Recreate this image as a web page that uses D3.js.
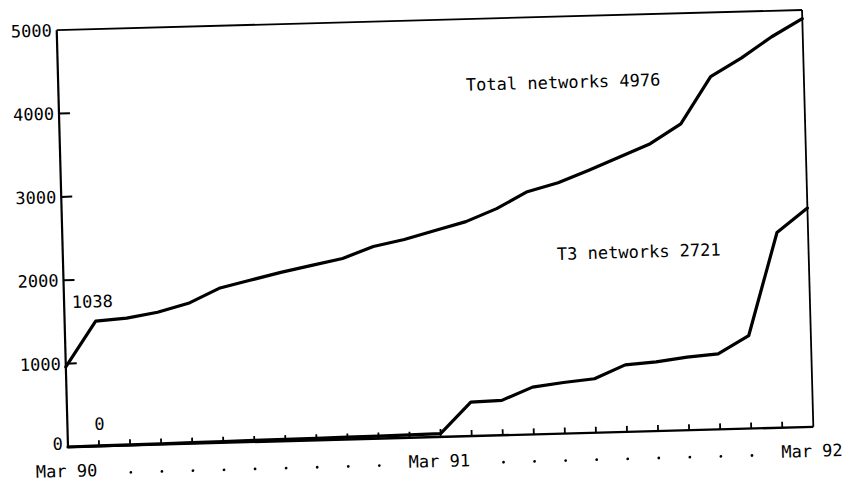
<!DOCTYPE html>
<html><head><meta charset="utf-8">
<script src="https://cdn.jsdelivr.net/npm/d3@7"></script>
<style>html,body{margin:0;padding:0;background:#fff}svg{display:block}</style>
</head><body>
<svg id="chart" width="864" height="482"></svg>
<script>
// ---- data ----
const months = ["Mar 90","Apr 90","May 90","Jun 90","Jul 90","Aug 90","Sep 90","Oct 90","Nov 90","Dec 90","Jan 91","Feb 91",
                "Mar 91","Apr 91","May 91","Jun 91","Jul 91","Aug 91","Sep 91","Oct 91","Nov 91","Dec 91","Jan 92","Feb 92","Mar 92"];
const totalNetworks = [960, 1499, 1525, 1586, 1683, 1853, 1939, 2024, 2098, 2171, 2304, 2378,
                       2475, 2572, 2718, 2911, 3009, 3149, 3297, 3447, 3675, 4230, 4443, 4689, 4895];
const t3Networks = [0, 3, 6, 9, 12, 15, 18, 21, 24, 27, 30, 34,
                    40, 407, 418, 567, 612, 647, 804, 829, 876, 905, 1113, 2341, 2624];
const yTickValues = [0, 1000, 2000, 3000, 4000, 5000];
const yTickLabels = ["0", "1000", "2000", "3000", "4000", "5000"];
const xLabelMonths = ["Mar 90", "Mar 91", "Mar 92"];
const annotationTexts = ["Total networks 4976", "T3 networks 2721", "1038", "0"];

// ---- layout ----
const svg = d3.select("#chart");
const W = 745.6, H = 417;
const g = svg.append("g").attr("transform", "translate(68,447) rotate(-1.55)");
const x = d3.scaleLinear().domain([0, months.length - 1]).range([0, W]);
const y = d3.scaleLinear().domain([0, 5000]).range([0, -H]);
const font = "'DejaVu Sans Mono', monospace";

// frame
g.append("line").attr("x1", 0).attr("y1", y(0)).attr("x2", 0).attr("y2", y(5000))
  .attr("stroke", "#000").attr("stroke-width", 2.2);
g.append("line").attr("x1", 0).attr("y1", y(0)).attr("x2", W).attr("y2", y(0))
  .attr("stroke", "#000").attr("stroke-width", 2.4);
g.append("line").attr("x1", 0).attr("y1", y(5000)).attr("x2", W).attr("y2", y(5000))
  .attr("stroke", "#000").attr("stroke-width", 1.8);
g.append("line").attr("x1", W).attr("y1", y(0)).attr("x2", W).attr("y2", y(5000))
  .attr("stroke", "#000").attr("stroke-width", 1.8);

// y ticks (inside)
g.selectAll(".yt").data(yTickValues.filter(v => v > 0 && v < 5000)).enter().append("line")
  .attr("x1", 0).attr("x2", 11).attr("y1", d => y(d)).attr("y2", d => y(d))
  .attr("stroke", "#000").attr("stroke-width", 2);
g.selectAll(".yl").data(yTickValues).enter().append("text")
  .attr("x", -5).attr("y", (d) => y(d) - (d === 0 ? 3.5 : 0)).attr("dy", "0.36em")
  .attr("text-anchor", "end").attr("font-family", font).attr("font-size", 17)
  .text((d, i) => yTickLabels[i]);

// x ticks (monthly, upward)
const innerIdx = d3.range(1, months.length - 1);
g.selectAll(".xt").data(innerIdx).enter().append("line")
  .attr("x1", d => x(d)).attr("x2", d => x(d)).attr("y1", 0).attr("y2", d => d === 12 ? -8 : -6)
  .attr("stroke", "#000").attr("stroke-width", 1.8);

// x labels and dots
const labelIdx = xLabelMonths.map(m => months.indexOf(m));
g.selectAll(".xl").data(xLabelMonths).enter().append("text")
  .attr("x", d => x(months.indexOf(d)) - 2).attr("y", 30)
  .attr("text-anchor", "middle").attr("font-family", font).attr("font-size", 17)
  .text(d => d);
const dotIdx = d3.range(months.length).filter(i => labelIdx.every(l => Math.abs(i - l) > 1));
g.selectAll(".dot").data(dotIdx).enter().append("circle")
  .attr("cx", d => x(d)).attr("cy", 27).attr("r", 1.4).attr("fill", "#000");

// lines
const line = d3.line().x((d, i) => x(i)).y(d => y(d));
g.append("path").datum(totalNetworks).attr("d", line)
  .attr("fill", "none").attr("stroke", "#000").attr("stroke-width", 3.2)
  .attr("stroke-linejoin", "round").attr("stroke-linecap", "round");
g.append("path").datum(t3Networks).attr("d", line)
  .attr("fill", "none").attr("stroke", "#000").attr("stroke-width", 3.2)
  .attr("stroke-linejoin", "round").attr("stroke-linecap", "round");

// annotations
const annPos = [
  {m: 13.12, v: 4140, anchor: "start"},
  {m: 15.9, v: 2084, anchor: "start"},
  {m: 0.25, v: 1665, anchor: "start"},
  {m: 1.03, v: 194, anchor: "middle"}
];
g.selectAll(".ann").data(annotationTexts).enter().append("text")
  .attr("x", (d, i) => x(annPos[i].m)).attr("y", (d, i) => y(annPos[i].v))
  .attr("text-anchor", (d, i) => annPos[i].anchor)
  .attr("font-family", font).attr("font-size", 17)
  .text(d => d);
</script>
</body></html>
